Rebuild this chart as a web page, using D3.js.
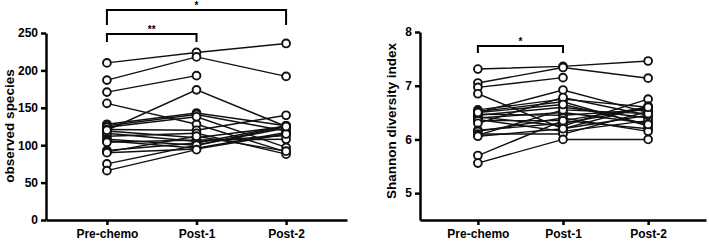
<!DOCTYPE html>
<html>
<head>
<meta charset="utf-8">
<script src="https://cdn.jsdelivr.net/npm/d3@7"></script>
<style>
  body { margin: 0; background: #fff; }
  svg { display: block; font-family: "Liberation Sans", Arial, sans-serif; font-weight: bold; }
</style>
</head>
<body>
<script>
// time points
const groups = ["Pre-chemo", "Post-1", "Post-2"];

// observed species, one entry per subject (null = missing)
const obsPre   = [210, 187, 171, 156, 128, 126, 124, 121, 119, 116, 112, 108, 106, 104, 93, 91, 90, 75, 66, 120];
const obsPost1 = [224, 218, 193, 128, 143, 141, 138, 120, 110, 105, 116, 100, 96, 107, 103, 112, 95, 100, 94, 174];
const obsPost2 = [236, 192, null, 91, 126, 119, 97, 140, 125, 113, 88, 123, 117, 108, 126, 92, 115, 125, null, 125];
const obsTicks = [0, 50, 100, 150, 200, 250];

// shannon diversity index
const shPre   = [7.31, 7.05, 6.97, 6.85, 6.55, 6.52, 6.50, 6.47, 6.45, 6.42, 6.40, 6.37, 6.35, 6.30, 6.17, 6.15, 6.10, 6.08, 6.06, 5.70, 5.56, 6.50];
const shPost1 = [7.36, 7.34, 7.15, 6.20, 6.75, 6.70, 6.92, 6.45, 6.60, 6.25, 6.50, 6.15, 6.35, 6.78, 6.30, 6.40, 6.10, 6.55, 6.20, 6.35, 6.00, 6.65];
const shPost2 = [7.46, 7.14, null, 6.45, 6.60, 6.25, 6.50, 6.55, 6.40, 6.75, 6.30, 6.35, 6.20, 6.45, 6.58, 6.15, 6.52, 6.48, 6.62, 6.60, 6.00, 6.28];
const shTicks = [5, 6, 7, 8];

const width = 709, height = 241;
const svg = d3.select("body").append("svg").attr("width", width).attr("height", height);

function panel(o) {
  const x = d3.scalePoint().domain(groups).range(o.xRange).padding(0.68);
  const y = d3.scaleLinear().domain(o.yDomain).range(o.yRange);
  const g = svg.append("g");

  // subjects
  const subjects = o.pre.map((v, i) => [o.pre[i], o.post1[i], o.post2[i]]);
  const line = d3.line()
    .defined(d => d != null)
    .x((d, i) => x(groups[i]))
    .y(d => y(d));
  subjects.forEach(s => {
    g.append("path").datum(s)
      .attr("fill", "none").attr("stroke", "#111").attr("stroke-width", 1.4)
      .attr("d", line);
  });
  subjects.forEach(s => {
    s.forEach((v, i) => {
      if (v == null) return;
      g.append("circle")
        .attr("cx", x(groups[i])).attr("cy", y(v)).attr("r", 3.9)
        .attr("fill", "#fff").attr("stroke", "#111").attr("stroke-width", 1.9);
    });
  });

  // axes
  g.append("g")
    .attr("transform", `translate(${o.xRange[0]},0)`)
    .call(d3.axisLeft(y).tickValues(o.ticks).tickFormat(d3.format("d")).tickSize(5).tickSizeOuter(0).tickPadding(3))
    .call(a => a.selectAll("path, line").attr("stroke", "#000").attr("stroke-width", 2.5))
    .call(a => a.selectAll("text").attr("font-size", 12).attr("font-weight", "bold").attr("fill", "#000"));
  g.append("g")
    .attr("transform", `translate(0,${o.yRange[0]})`)
    .call(d3.axisBottom(x).tickSize(5).tickSizeOuter(0).tickPadding(4))
    .call(a => a.selectAll("path, line").attr("stroke", "#000").attr("stroke-width", 2.5))
    .call(a => a.selectAll("text").attr("font-size", 12).attr("font-weight", "bold").attr("fill", "#000"));

  // y label
  g.append("text")
    .attr("transform", `translate(${o.labelX},${o.labelY}) rotate(-90)`)
    .attr("text-anchor", "middle")
    .attr("font-size", 13.5)
    .text(o.label);

  // significance brackets
  o.brackets.forEach(b => {
    const x1 = x(groups[b.from]), x2 = x(groups[b.to]);
    g.append("path")
      .attr("d", `M${x1},${b.y + b.drop}V${b.y}H${x2}V${b.y + b.drop}`)
      .attr("fill", "none").attr("stroke", "#000").attr("stroke-width", 2);
    g.append("text")
      .attr("x", (x1 + x2) / 2).attr("y", b.y - 1)
      .attr("text-anchor", "middle").attr("font-size", 10)
      .text(b.mark);
  });
}

panel({
  xRange: [46, 347], yDomain: [0, 250], yRange: [220, 33],
  pre: obsPre, post1: obsPost1, post2: obsPost2, ticks: obsTicks,
  label: "observed species", labelX: 14, labelY: 126,
  brackets: [
    {from: 0, to: 2, y: 10, drop: 15, mark: "*"},
    {from: 0, to: 1, y: 34, drop: 8, mark: "**"}
  ]
});

panel({
  xRange: [420, 706], yDomain: [4.5, 8], yRange: [220, 32],
  pre: shPre, post1: shPost1, post2: shPost2, ticks: shTicks,
  label: "Shannon diversity index", labelX: 396, labelY: 121,
  brackets: [
    {from: 0, to: 1, y: 46, drop: 7, mark: "*"}
  ]
});
</script>
</body>
</html>
